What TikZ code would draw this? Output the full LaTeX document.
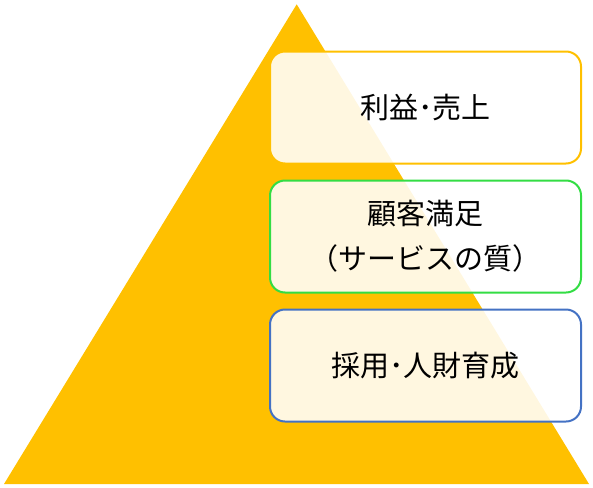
\documentclass[tikz,border=0pt]{standalone}
\usepackage{fontspec}
\newfontfamily\jpfont{Noto Sans CJK JP}
\usetikzlibrary{positioning}

\definecolor{pyramid}{HTML}{FFC000}
\definecolor{salesline}{HTML}{FFC000}
\definecolor{satline}{HTML}{33DD44}
\definecolor{staffline}{HTML}{4472C4}

\tikzset{
  layer/.style={draw, line width=2pt, rounded corners=15pt, fill=white, fill opacity=.88, text opacity=1,
    minimum width=311pt, minimum height=112pt, align=center, inner sep=0pt,
    font=\jpfont\fontsize{29}{45}\selectfont}
}

\begin{document}
\begin{tikzpicture}[x=1pt, y=-1pt]
            \useasboundingbox (0,0) rectangle (593,487);
            % pyramid
            \fill[pyramid] (296.7,4.3) -- (589,484) -- (4,484) -- cycle;

            % layers
            \node[layer, draw=salesline] (sales) at (425.5,107.5) {利益･売上};
            \node[layer, draw=satline, below=15pt of sales] (satisfaction) {顧客満足\\（サービスの質）};
            \node[layer, draw=staffline, below=15pt of satisfaction] (staff) {採用･人財育成};
     \end{tikzpicture}
\end{document}
